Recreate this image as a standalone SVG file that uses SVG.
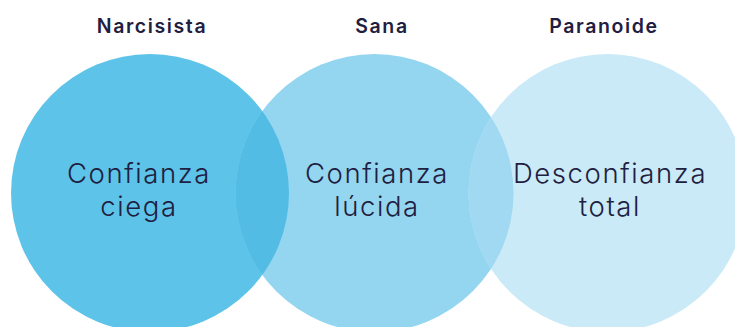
<svg xmlns="http://www.w3.org/2000/svg" width="735" height="327" viewBox="0 0 735 327">
  <style>
    .hdr { font-family: Inter, "Liberation Sans", sans-serif; font-weight: 600; font-size: 19.5px; letter-spacing: 1.6px; fill: #1f2040; text-anchor: middle; }
    .lbl { font-family: Inter, "Liberation Sans", sans-serif; font-weight: 300; font-size: 27.5px; letter-spacing: 1.6px; fill: #1f2040; text-anchor: middle; }
  </style>
  <defs>
    <clipPath id="c1"><circle cx="150" cy="193" r="139"/></clipPath>
    <clipPath id="c2"><circle cx="374.5" cy="193" r="139"/></clipPath>
  </defs>
  <rect width="735" height="327" fill="#ffffff"/>
  <g id="node-narcisista">
    <circle cx="150" cy="193" r="139" fill="#5dc3e8"/>
  </g>
  <g id="node-sana">
    <circle cx="374.5" cy="193" r="139" fill="#94d6f0"/>
    <circle cx="374.5" cy="193" r="139" fill="#52bce4" clip-path="url(#c1)"/>
  </g>
  <g id="node-paranoide">
    <circle cx="607.5" cy="193" r="139" fill="#c9eaf6"/>
    <circle cx="607.5" cy="193" r="139" fill="#a0d9f1" clip-path="url(#c2)"/>
  </g>
  <g id="labels">
    <text class="hdr" x="152" y="33">Narcisista</text>
    <text class="hdr" x="382" y="33">Sana</text>
    <text class="hdr" x="604" y="33">Paranoide</text>
    <text class="lbl" x="139" y="183">Confianza</text>
    <text class="lbl" x="139" y="216">ciega</text>
    <text class="lbl" x="377" y="183">Confianza</text>
    <text class="lbl" x="377" y="216">lúcida</text>
    <text class="lbl" x="610" y="183">Desconfianza</text>
    <text class="lbl" x="610" y="216">total</text>
  </g>
  <g id="connectors"/>
</svg>
